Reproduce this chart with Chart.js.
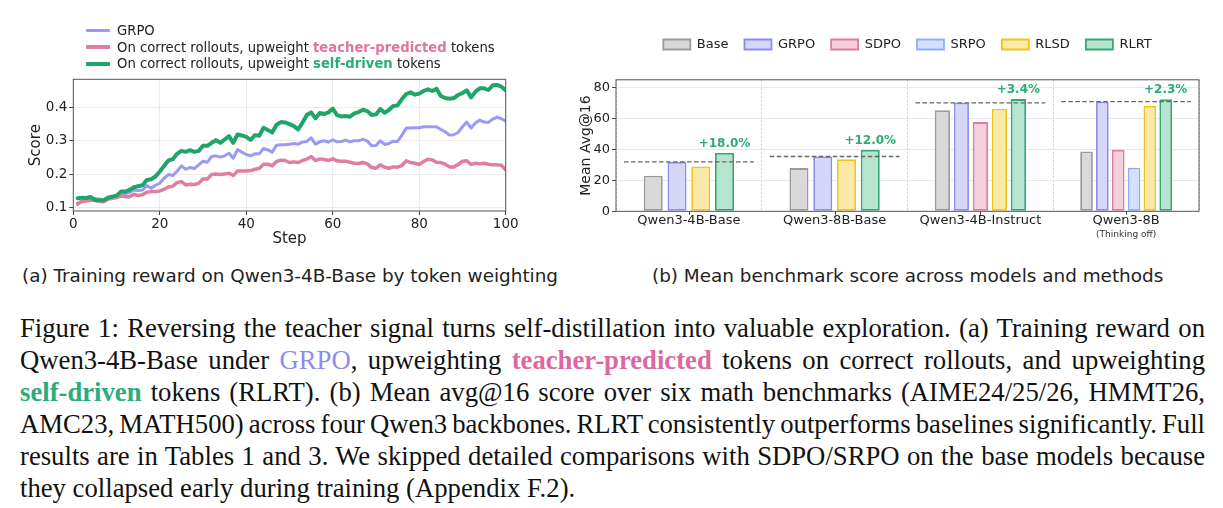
<!DOCTYPE html>
<html>
<head>
<meta charset="utf-8">
<script src="https://cdn.jsdelivr.net/npm/chart.js@4.4.1/dist/chart.umd.min.js"></script>
<style>
html, body { margin:0; padding:0; background:#fff; overflow:hidden; width:1223px; height:508px; }
#wrap { position:relative; width:1223px; height:508px; overflow:hidden; }
#lineBox { position:absolute; left:0; top:0; width:540px; height:255px; }
#barBox { position:absolute; left:560px; top:0; width:695px; height:255px; }
.legendA { position:absolute; left:86px; top:22px; font-family:'DejaVu Sans'; font-size:13.2px; color:#222; }
.legendA .row { height:16.8px; display:flex; align-items:center; white-space:nowrap; }
.legendA .sw { width:24px; height:3px; margin-right:7px; border-radius:1px; }
.sub { position:absolute; top:265px; font-family:'DejaVu Sans'; font-size:18.4px; color:#222; white-space:nowrap; }
.cap { position:absolute; left:20px; top:312px; width:1185px; font-family:'Liberation Serif'; font-size:26.7px; line-height:32px; color:#111; }
.cap div { text-align:justify; text-align-last:justify; white-space:nowrap; word-spacing:-2.5px; }
.cap div.last { text-align-last:left; word-spacing:0; }
</style>
</head>
<body>
<div id="wrap">
  <div id="lineBox"><canvas id="lineChart"></canvas></div>
  <div class="legendA">
    <div class="row"><div class="sw" style="background:#9a9af5"></div>GRPO</div>
    <div class="row"><div class="sw" style="background:#e07ea0;height:3.5px"></div>On correct rollouts, upweight&nbsp;<b style="color:#e0759f">teacher-predicted</b>&nbsp;tokens</div>
    <div class="row"><div class="sw" style="background:#1fa567;height:4px"></div>On correct rollouts, upweight&nbsp;<b style="color:#2aac74">self-driven</b>&nbsp;tokens</div>
  </div>
  <div id="barBox"><canvas id="barChart"></canvas></div>
  <div class="sub" style="left:22px">(a) Training reward on Qwen3-4B-Base by token weighting</div>
  <div class="sub" style="left:652px">(b) Mean benchmark score across models and methods</div>
  <div class="cap">
    <div>Figure 1: Reversing the teacher signal turns self-distillation into valuable exploration. (a) Training reward on</div>
    <div>Qwen3-4B-Base under <span style="color:#8c8cf0">GRPO</span>, upweighting <b style="color:#dc68a0">teacher-predicted</b> tokens on correct rollouts, and upweighting</div>
    <div><b style="color:#2aac7c">self-driven</b> tokens (RLRT). (b) Mean avg@16 score over six math benchmarks (AIME24/25/26, HMMT26,</div>
    <div>AMC23, MATH500) across four Qwen3 backbones. RLRT consistently outperforms baselines significantly. Full</div>
    <div>results are in Tables 1 and 3. We skipped detailed comparisons with SDPO/SRPO on the base models because</div>
    <div class="last">they collapsed early during training (Appendix F.2).</div>
  </div>
</div>
<script>
// ---- (a) training reward ----
const steps = [1,2,3,4,5,6,7,8,9,10,11,12,13,14,15,16,17,18,19,20,
21,22,23,24,25,26,27,28,29,30,31,32,33,34,35,36,37,38,39,40,
41,42,43,44,45,46,47,48,49,50,51,52,53,54,55,56,57,58,59,60,
61,62,63,64,65,66,67,68,69,70,71,72,73,74,75,76,77,78,79,80,
81,82,83,84,85,86,87,88,89,90,91,92,93,94,95,96,97,98,99,100];

const grpoScore = [0.109,0.121,0.125,0.125,0.127,0.126,0.123,0.131,0.134,0.135,
0.138,0.141,0.146,0.153,0.151,0.153,0.166,0.158,0.167,0.173,
0.188,0.199,0.196,0.209,0.225,0.215,0.220,0.217,0.228,0.239,
0.236,0.253,0.255,0.251,0.255,0.263,0.248,0.274,0.266,0.259,
0.255,0.261,0.261,0.277,0.273,0.266,0.287,0.288,0.288,0.290,
0.292,0.290,0.296,0.298,0.309,0.290,0.297,0.300,0.296,0.303,
0.297,0.298,0.302,0.297,0.300,0.300,0.305,0.299,0.285,0.286,
0.300,0.289,0.292,0.299,0.298,0.317,0.338,0.338,0.339,0.339,
0.342,0.342,0.342,0.342,0.334,0.327,0.317,0.318,0.325,0.342,
0.356,0.338,0.353,0.362,0.356,0.355,0.365,0.371,0.366,0.359];

const teacherScore = [0.113,0.118,0.120,0.123,0.121,0.119,0.118,0.125,0.128,0.130,
0.135,0.133,0.133,0.140,0.136,0.139,0.146,0.148,0.148,0.150,
0.155,0.162,0.164,0.175,0.178,0.168,0.170,0.169,0.173,0.186,
0.186,0.199,0.201,0.199,0.201,0.203,0.196,0.210,0.210,0.210,
0.211,0.215,0.217,0.230,0.230,0.225,0.238,0.242,0.241,0.235,
0.237,0.235,0.241,0.245,0.253,0.241,0.246,0.244,0.241,0.246,
0.240,0.239,0.239,0.236,0.233,0.232,0.235,0.231,0.220,0.218,
0.228,0.221,0.218,0.222,0.221,0.226,0.240,0.235,0.233,0.229,
0.238,0.245,0.243,0.236,0.235,0.230,0.222,0.222,0.229,0.239,
0.240,0.229,0.233,0.231,0.233,0.230,0.228,0.228,0.227,0.213];

const selfScore = [0.128,0.130,0.129,0.132,0.123,0.122,0.122,0.129,0.133,0.136,
0.148,0.148,0.153,0.161,0.164,0.167,0.183,0.185,0.193,0.208,
0.225,0.241,0.245,0.261,0.270,0.267,0.272,0.267,0.270,0.285,
0.285,0.294,0.302,0.294,0.304,0.314,0.294,0.319,0.316,0.312,
0.303,0.317,0.315,0.339,0.332,0.325,0.348,0.356,0.355,0.350,
0.344,0.334,0.354,0.377,0.385,0.367,0.383,0.380,0.385,0.396,
0.377,0.373,0.374,0.372,0.382,0.386,0.393,0.389,0.377,0.379,
0.395,0.384,0.392,0.404,0.406,0.425,0.440,0.445,0.438,0.441,
0.449,0.454,0.449,0.456,0.434,0.428,0.426,0.428,0.437,0.443,
0.451,0.430,0.447,0.457,0.457,0.452,0.466,0.467,0.462,0.451];

const scoreTicks = [0.1, 0.2, 0.3, 0.4];

// ---- (b) mean benchmark score ----
const models = ['Qwen3-4B-Base', 'Qwen3-8B-Base', 'Qwen3-4B-Instruct', 'Qwen3-8B'];
const baseAvg = [23.0, 28.0, 65.4, 38.7];
const grpoAvg = [32.0, 35.5, 70.3, 71.0];
const sdpoAvg = [null, null, 57.8, 39.8];
const srpoAvg = [null, null, null, 28.2];
const rlsdAvg = [29.0, 33.8, 66.5, 68.2];
const rlrtAvg = [37.8, 39.7, 72.7, 72.6];
const gainLabels = ['+18.0%', '+12.0%', '+3.4%', '+2.3%'];
const avgTicks = [0, 20, 40, 60, 80];

const FONT = 'DejaVu Sans';

// box round the plot area, like matplotlib spines
const frame = {
  id: 'frame',
  afterDraw(chart) {
    const a = chart.chartArea, ctx = chart.ctx;
    ctx.save();
    ctx.strokeStyle = '#555';
    ctx.lineWidth = 1;
    ctx.strokeRect(a.left, a.top, a.right - a.left, a.bottom - a.top);
    ctx.restore();
  }
};

new Chart(document.getElementById('lineChart'), {
  type: 'line',
  data: {
    labels: steps,
    datasets: [
      { label: 'GRPO', data: grpoScore, borderColor: '#9a9af5', borderWidth: 3, order: 3 },
      { label: 'teacher-predicted', data: teacherScore, borderColor: '#e07ea0', borderWidth: 3.5, order: 2 },
      { label: 'self-driven', data: selfScore, borderColor: '#1fa567', borderWidth: 4, order: 1 }
    ]
  },
  options: {
    responsive: true,
    maintainAspectRatio: false,
    animation: false,
    layout: { padding: { top: 79.3, right: 34.3, left: 0, bottom: 0 } },
    elements: { point: { radius: 0 }, line: { tension: 0, borderJoinStyle: 'round', borderCapStyle: 'round' } },
    plugins: { legend: { display: false }, tooltip: { enabled: false } },
    scales: {
      x: {
        type: 'linear', min: 0, max: 100,
        ticks: { stepSize: 20, font: { family: FONT, size: 13.5 }, color: '#222', padding: 1, maxRotation: 0 },
        grid: { color: '#ebebeb', tickColor: '#444', tickLength: 4 },
        border: { display: false },
        title: { display: true, text: 'Step', font: { family: FONT, size: 15 }, color: '#222', padding: { top: 0, bottom: 6.5 } },
        afterFit(s) { s.height = 44; }
      },
      y: {
        min: 0.09, max: 0.484,
        afterBuildTicks(s) { s.ticks = scoreTicks.map(v => ({ value: v })); },
        ticks: { font: { family: FONT, size: 13.5 }, color: '#222', padding: 2, callback: v => v.toFixed(1) },
        grid: { color: '#ebebeb', tickColor: '#444', tickLength: 4 },
        border: { display: false },
        title: { display: true, text: 'Score', font: { family: FONT, size: 15 }, color: '#222', padding: { top: 27, bottom: 0 } },
        afterFit(s) { s.width = 73.3; }
      }
    }
  },
  plugins: [frame]
});

// dashed GRPO reference, gain labels, sub label under Qwen3-8B
const barExtras = {
  id: 'barExtras',
  afterDatasetsDraw(chart) {
    const ctx = chart.ctx, x = chart.scales.x, y = chart.scales.y;
    const half = (x.getPixelForValue(1) - x.getPixelForValue(0)) * 0.445;
    ctx.save();
    ctx.strokeStyle = '#666';
    ctx.lineWidth = 1.3;
    ctx.setLineDash([4.5, 2.5]);
    grpoAvg.forEach((v, i) => {
      const cx = x.getPixelForValue(i), py = y.getPixelForValue(v);
      ctx.beginPath();
      ctx.moveTo(cx - half, py);
      ctx.lineTo(cx + half, py);
      ctx.stroke();
    });
    ctx.setLineDash([]);
    const rlrtMeta = chart.getDatasetMeta(5);
    ctx.fillStyle = '#2aac74';
    ctx.font = 'bold 12px "' + FONT + '"';
    ctx.textAlign = 'center';
    ctx.textBaseline = 'middle';
    gainLabels.forEach((t, i) => {
      const bar = rlrtMeta.data[i];
      ctx.fillText(t, bar.x, bar.y - 9);
    });
    // small tick marks under each group, as in the original axes
    ctx.strokeStyle = '#444';
    ctx.lineWidth = 1;
    models.forEach((m, i) => {
      const cx = Math.round(x.getPixelForValue(i)) + 0.5;
      ctx.beginPath();
      ctx.moveTo(cx, chart.chartArea.bottom);
      ctx.lineTo(cx, chart.chartArea.bottom + 3.5);
      ctx.stroke();
    });
    ctx.fillStyle = '#333';
    ctx.font = '9px "' + FONT + '"';
    ctx.fillText('(Thinking off)', x.getPixelForValue(3), 235);
    ctx.restore();
  }
};

const tallLegend = {
  id: 'tallLegend',
  beforeInit(chart) {
    const lg = chart.legend;
    if (!lg || lg._tall) return;
    const fit = lg.fit;
    lg.fit = function () { fit.call(this); this.height += 18.8; };
    lg._tall = true;
  }
};

function barSet(label, data, fill, edge) {
  return { label: label, data: data, backgroundColor: fill, borderColor: edge, borderWidth: 1.8, borderSkipped: false };
}

new Chart(document.getElementById('barChart'), {
  type: 'bar',
  data: {
    labels: models,
    datasets: [
      barSet('Base', baseAvg, '#d9d9d9', '#9a9a9a'),
      barSet('GRPO', grpoAvg, '#d6d6f6', '#8c8cf0'),
      barSet('SDPO', sdpoAvg, '#f3d0dc', '#de7a9c'),
      barSet('SRPO', srpoAvg, '#d4e0fb', '#8eaef4'),
      barSet('RLSD', rlsdAvg, '#fbe9a9', '#f3c414'),
      barSet('RLRT', rlrtAvg, '#b6e4cf', '#32a874')
    ]
  },
  options: {
    responsive: true,
    maintainAspectRatio: false,
    animation: false,
    skipNull: true,
    categoryPercentage: 0.652,
    barPercentage: 0.8,
    layout: { padding: { top: 22, right: 0, left: 0, bottom: 0 } },
    plugins: {
      tooltip: { enabled: false },
      legend: {
        position: 'top',
        labels: { boxWidth: 27, boxHeight: 10, padding: 16, color: '#222', font: { family: FONT, size: 13 } }
      }
    },
    scales: {
      x: {
        ticks: { font: { family: FONT, size: 13 }, color: '#222', padding: 2 },
        grid: { offset: true, color: '#cfcfcf', drawTicks: false },
        border: { display: false, dash: [2, 2] },
        afterFit(s) { s.height = 43.7; }
      },
      y: {
        min: 0, max: 85.2,
        afterBuildTicks(s) { s.ticks = avgTicks.map(v => ({ value: v })); },
        ticks: { font: { family: FONT, size: 13 }, color: '#222', padding: 2 },
        grid: { color: '#e8e8e8', tickColor: '#444', tickLength: 4 },
        border: { display: false },
        title: { display: true, text: 'Mean Avg@16', font: { family: FONT, size: 14 }, color: '#222', padding: { top: 18, bottom: 0 } },
        afterFit(s) { s.width = 56; }
      },
      pad: {
        position: 'right', display: true,
        ticks: { display: false }, grid: { display: false }, border: { display: false },
        afterFit(s) { s.width = 56; }
      }
    }
  },
  plugins: [tallLegend, barExtras, frame]
});
</script>
</body>
</html>
